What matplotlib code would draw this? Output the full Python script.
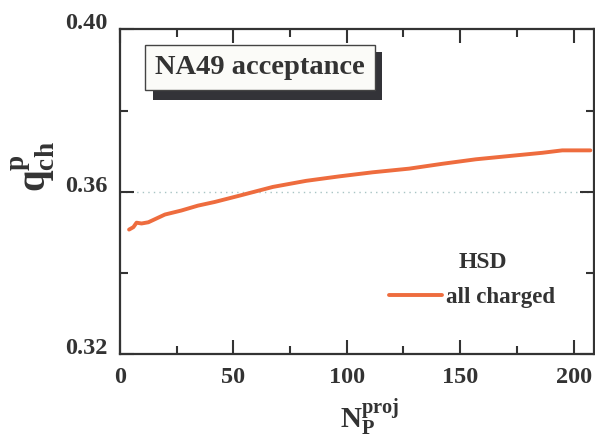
import matplotlib
matplotlib.use("Agg")
import matplotlib.pyplot as plt
from matplotlib.patches import Rectangle
from matplotlib.ticker import MultipleLocator

plt.rcParams['font.family'] = ['Liberation Serif', 'DejaVu Serif']
plt.rcParams['font.weight'] = 'bold'
plt.rcParams['mathtext.fontset'] = 'custom'
plt.rcParams['mathtext.rm'] = 'Liberation Serif:bold'
plt.rcParams['mathtext.bf'] = 'Liberation Serif:bold'
plt.rcParams['mathtext.it'] = 'Liberation Serif:bold'

# data
n_proj = [4.0, 5.9, 7.3, 9.5, 12.5, 19.8, 27.1, 34.4, 41.8, 53.0, 67.4, 82.1,
          96.7, 111.4, 127.5, 142.2, 156.9, 171.5, 186.2, 195.0, 207.4]
q_ch = [0.3507, 0.3513, 0.3524, 0.3522, 0.3525, 0.3544, 0.3554, 0.3566, 0.3575,
        0.3591, 0.3612, 0.3627, 0.3638, 0.3648, 0.3657, 0.3669, 0.3680, 0.3688,
        0.3696, 0.3702, 0.3702]
ref_level = 0.36
x_ticks = [0, 50, 100, 150, 200]
y_ticks = [0.32, 0.36, 0.40]
y_ticklabels = ['0.32', '0.36', '0.40']

TXT = '#333333'
LINE = '#EE6C3E'

fig = plt.figure(figsize=(5.95, 4.37), dpi=100)
ax = fig.add_axes([120/595, 1-354.3/437, (594-120)/595, (354.3-29.3)/437])

ax.plot(n_proj, q_ch, color=LINE, lw=2.8, solid_capstyle='round', label='all charged')
ax.axhline(ref_level, color='#a8c4c4', lw=1.0, ls=(0, (1, 3)), zorder=0)

ax.set_xlim(0, 209)
ax.set_ylim(0.32, 0.40)
ax.set_xticks(x_ticks)
ax.set_yticks(y_ticks)
ax.set_yticklabels(y_ticklabels)
ax.xaxis.set_minor_locator(MultipleLocator(25))
ax.yaxis.set_minor_locator(MultipleLocator(0.02))
ax.tick_params(which='both', direction='in', top=True, right=True,
               color=TXT, width=1.5, labelsize=17.5, labelcolor=TXT)
ax.tick_params(which='major', length=10)
ax.tick_params(which='minor', length=6)
ax.tick_params(axis='x', pad=9)
ax.tick_params(axis='y', pad=9)
for lab in ax.get_yticklabels():
    lab.set_va('baseline')
    lab.set_fontweight('bold')
for lab in ax.get_xticklabels():
    lab.set_fontweight('bold')
for s in ax.spines.values():
    s.set_color(TXT)
    s.set_linewidth(1.6)

# title box with shadow
fig.patches.append(Rectangle((153/595, 1-100/437), (382-153)/595, (100-52)/437,
                             transform=fig.transFigure, facecolor='#333338',
                             edgecolor='none', zorder=5))
fig.patches.append(Rectangle((145/595, 1-90/437), (375-145)/595, (90-45)/437,
                             transform=fig.transFigure, facecolor='#fbfbf8',
                             edgecolor='#444444', lw=1.0, zorder=6))
fig.text(260/595, 1-68/437, 'NA49 acceptance', ha='center', va='center',
         fontsize=20.5, fontweight='bold', color=TXT, zorder=7)

# legend
fig.text(483/595, 1-262/437, 'HSD', ha='center', va='center', fontsize=17,
         fontweight='bold', color=TXT)
ax.legend(loc='upper left', bbox_to_anchor=(378/595, 1-276/437),
          bbox_transform=fig.transFigure, frameon=False,
          handlelength=2.3, handletextpad=0.15, borderpad=0,
          prop={'weight': 'bold', 'size': 16.5}, labelcolor=TXT)

# axis labels
fig.text(33/595, 1-167/437, r'$\mathbf{q}_{\mathbf{ch}}^{\mathbf{p}}$', rotation=90,
         ha='center', va='center', fontsize=28, color=TXT)
fig.text(370/595, 1-417/437, r'$\mathbf{N}_{\mathbf{P}}^{\mathbf{proj}}$',
         ha='center', va='center', fontsize=21, color=TXT)

fig.savefig('out.png', dpi=100)
